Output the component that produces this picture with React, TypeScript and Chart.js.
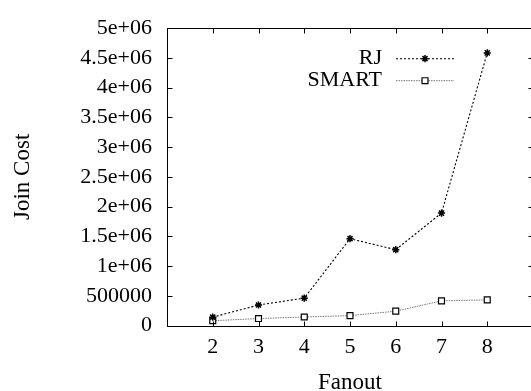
import React, { useEffect, useRef } from 'react';
import { Chart, registerables } from 'chart.js';
import { drawPoint } from 'chart.js/helpers';

Chart.register(...registerables);

const fanout = [2, 3, 4, 5, 6, 7, 8];
const rjCost = [140000, 345000, 460000, 1460000, 1275000, 1890000, 4585000];
const smartCost = [80000, 117000, 143000, 166000, 241000, 415000, 431000];
const yTickValues = [0, 500000, 1000000, 1500000, 2000000, 2500000, 3000000, 3500000, 4000000, 4500000, 5000000];
const yTickLabels = ['0', '500000', '1e+06', '1.5e+06', '2e+06', '2.5e+06', '3e+06', '3.5e+06', '4e+06', '4.5e+06', '5e+06'];
const xTickLabels = ['2', '3', '4', '5', '6', '7', '8'];
const seriesNames = ['RJ', 'SMART'];

const FONT = '"Liberation Serif", "Times New Roman", serif';

const framePlugin = {
  id: 'frame',
  afterDraw(chart: any) {
    const { ctx, chartArea: a, scales } = chart;
    const x = scales.x;
    const y = scales.y;
    const L = Math.round(a.left) + 0.5;
    const R = Math.round(a.right) + 0.5;
    const T = Math.round(a.top) + 0.5;
    const B = Math.round(a.bottom) + 0.5;
    const len = 5;
    ctx.save();
    ctx.strokeStyle = '#000';
    ctx.lineWidth = 1;
    ctx.setLineDash([]);
    ctx.strokeRect(L, T, R - L, B - T);
    ctx.beginPath();
    x.ticks.forEach((t: any) => {
      const px = Math.round(x.getPixelForValue(t.value)) + 0.5;
      ctx.moveTo(px, B);
      ctx.lineTo(px, B - len);
      ctx.moveTo(px, T);
      ctx.lineTo(px, T + len);
    });
    y.ticks.forEach((t: any) => {
      const py = Math.round(y.getPixelForValue(t.value)) + 0.5;
      ctx.moveTo(L, py);
      ctx.lineTo(L + len, py);
      ctx.moveTo(R, py);
      ctx.lineTo(R - len, py);
    });
    ctx.stroke();

    // legend (gnuplot style: text right-aligned, then sample line with marker)
    chart.data.datasets.forEach((ds: any, i: number) => {
      const ty = a.top + 30 + i * 22;
      ctx.font = '22px ' + FONT;
      ctx.textAlign = 'right';
      ctx.textBaseline = 'middle';
      ctx.fillStyle = '#000';
      ctx.fillText(ds.label, a.right - 151, ty);
      ctx.strokeStyle = ds.borderColor;
      ctx.lineWidth = ds.borderWidth;
      ctx.setLineDash(ds.borderDash);
      ctx.beginPath();
      ctx.moveTo(a.right - 137, ty + 0.5);
      ctx.lineTo(a.right - 79, ty + 0.5);
      ctx.stroke();
      ctx.setLineDash([]);
      ctx.fillStyle = ds.pointBackgroundColor;
      ctx.strokeStyle = ds.pointBorderColor;
      ctx.lineWidth = ds.pointBorderWidth;
      drawPoint(ctx, { pointStyle: ds.pointStyle, rotation: 0, radius: ds.pointRadius, borderWidth: ds.pointBorderWidth } as any, a.right - 108, ty + 0.5);
    });
    ctx.restore();
  },
};

export default function App() {
  const ref = useRef<HTMLCanvasElement | null>(null);

  useEffect(() => {
    if (!ref.current) return;
    const chart = new Chart(ref.current, {
      type: 'line',
      data: {
        datasets: [
          {
            label: seriesNames[0],
            data: fanout.map((f, i) => ({ x: f, y: rjCost[i] })),
            borderColor: '#000',
            borderWidth: 1.1,
            borderDash: [2, 2],
            pointStyle: 'star',
            pointRadius: 3.6,
            pointBorderWidth: 1.5,
            pointBorderColor: '#000',
            pointBackgroundColor: '#000',
            fill: false,
            tension: 0,
          },
          {
            label: seriesNames[1],
            data: fanout.map((f, i) => ({ x: f, y: smartCost[i] })),
            borderColor: '#777',
            borderWidth: 1,
            borderDash: [1.5, 1],
            pointStyle: 'rect',
            pointRadius: 4.2,
            pointBorderWidth: 1.2,
            pointBorderColor: '#000',
            pointBackgroundColor: '#fff',
            fill: false,
            tension: 0,
          },
        ],
      },
      options: {
        animation: false,
        responsive: false,
        maintainAspectRatio: false,
        devicePixelRatio: 1,
        layout: { padding: { top: 18, right: 12, left: 0, bottom: 0 } },
        plugins: { legend: { display: false }, tooltip: { enabled: false } },
        scales: {
          x: {
            type: 'linear',
            min: 1,
            max: 9,
            afterBuildTicks: (s: any) => {
              s.ticks = fanout.map((v) => ({ value: v }));
            },
            afterFit: (s: any) => {
              s.height = 74.5;
            },
            grid: { display: false, drawTicks: false },
            border: { display: false },
            ticks: {
              padding: 9,
              color: '#000',
              font: { family: FONT, size: 22 },
              maxRotation: 0,
              autoSkip: false,
              callback: (v: any, i: number) => xTickLabels[i],
            },
            title: {
              display: true,
              text: 'Fanout',
              color: '#000',
              font: { family: FONT, size: 23 },
              padding: { top: 0, bottom: 3 },
            },
          },
          y: {
            type: 'linear',
            min: 0,
            max: 5000000,
            afterBuildTicks: (s: any) => {
              s.ticks = yTickValues.map((v) => ({ value: v }));
            },
            afterFit: (s: any) => {
              s.width = 167;
            },
            grid: { display: false, drawTicks: false },
            border: { display: false },
            ticks: {
              padding: 15,
              color: '#000',
              font: { family: FONT, size: 22 },
              autoSkip: false,
              callback: (v: any, i: number) => yTickLabels[i],
            },
            title: {
              display: true,
              text: 'Join Cost',
              color: '#000',
              font: { family: FONT, size: 23 },
              padding: { top: 9, bottom: 0 },
            },
          },
        },
      },
      plugins: [framePlugin],
    } as any);
    return () => chart.destroy();
  }, []);

  return (
    <div style={{ position: 'fixed', left: 0, top: 0, width: 531, height: 391, overflow: 'hidden', background: '#fff' }}>
      <canvas ref={ref} width={545} height={400} style={{ display: 'block' }} />
    </div>
  );
}
